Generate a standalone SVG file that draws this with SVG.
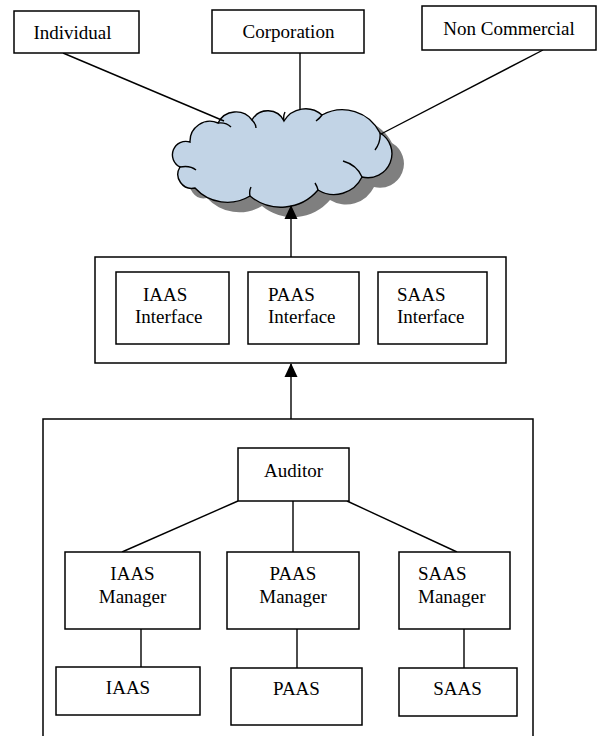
<svg xmlns="http://www.w3.org/2000/svg" width="599" height="736" viewBox="0 0 599 736">
<defs>
<style>
.box{fill:#fff;stroke:#000;stroke-width:1.5}
.ln{fill:none;stroke:#000;stroke-width:1.4}
text{font-family:'Liberation Serif','DejaVu Serif',serif;font-size:19px;fill:#000}
.c{text-anchor:middle}
</style>
<marker id="ah" markerWidth="14" markerHeight="16" refX="13" refY="6.5" orient="auto" markerUnits="userSpaceOnUse" viewBox="0 0 14 13">
<path d="M0,0 L14,6.5 L0,13 Z" fill="#000"/>
</marker>
<path id="cloudShape" d="M195,188 A14,14 0 0 1 180,167 A13.5,13.5 0 0 1 190,142 A20,20 0 0 1 218,123 A20,20 0 0 1 252,120 A18,18 0 0 1 284,121 A25,25 0 0 1 322,115 A42,42 0 0 1 380,133 A24,24 0 0 1 362,177 A31,31 0 0 1 318,190 A48.5,48.5 0 0 1 250,196 A43.7,43.7 0 0 1 195,188 Z"/>
</defs>
<rect width="599" height="736" fill="#fff"/>

<g id="cloud">
<use href="#cloudShape" transform="translate(12,10)" fill="#7f7f7f" stroke="none"/>
<use href="#cloudShape" fill="#c2d4e6" stroke="#000" stroke-width="1.4"/>
<path class="ln" d="M180,167 Q190,165 196,170 M218,123 Q226,122 231,127 M252,120 Q256,124 256,128 M284,121 Q283,116 285,112 M322,115 Q320,118 316,121 M380,133 Q381,142 375,150 M362,177 Q357,165 343,161 M318,190 Q317,186 315,183 M250,196 Q249,191 251,187"/>
</g>

<g id="connectors">
<line class="ln" x1="63" y1="53" x2="224" y2="121"/>
<line class="ln" x1="300" y1="53" x2="300" y2="110"/>
<line class="ln" x1="543" y1="50" x2="381" y2="134"/>
<line class="ln" x1="291" y1="257" x2="291" y2="206" marker-end="url(#ah)"/>
<line class="ln" x1="291" y1="419" x2="291" y2="364" marker-end="url(#ah)"/>
<line class="ln" x1="238" y1="501" x2="122" y2="552"/>
<line class="ln" x1="293" y1="501" x2="293" y2="552"/>
<line class="ln" x1="347" y1="501" x2="457" y2="552"/>
<line class="ln" x1="141" y1="629" x2="141" y2="667"/>
<line class="ln" x1="297" y1="629" x2="297" y2="668"/>
<line class="ln" x1="464" y1="629" x2="464" y2="668"/>
</g>

<g id="individual"><rect class="box" x="14" y="11" width="125" height="42"/><text class="c" x="72.5" y="39">Individual</text></g>
<g id="corporation"><rect class="box" x="212" y="10" width="152" height="43"/><text class="c" x="288.5" y="38">Corporation</text></g>
<g id="noncommercial"><rect class="box" x="422" y="6" width="174" height="44"/><text class="c" x="509" y="35">Non Commercial</text></g>

<g id="interfaces">
<rect class="box" x="95" y="257" width="411" height="106"/>
</g>
<g id="iaas-interface"><rect class="box" x="116" y="272" width="113" height="72"/><text x="143" y="301">IAAS</text><text x="135" y="323">Interface</text></g>
<g id="paas-interface"><rect class="box" x="248" y="272" width="111" height="72"/><text x="268" y="301">PAAS</text><text x="268" y="323">Interface</text></g>
<g id="saas-interface"><rect class="box" x="378" y="272" width="109" height="72"/><text x="397" y="301">SAAS</text><text x="397" y="323">Interface</text></g>

<g id="backend"><path class="box" style="fill:none" d="M43,740 V419 H533 V740"/></g>

<g id="auditor"><rect class="box" x="238" y="448" width="111" height="53"/><text class="c" x="293.5" y="477">Auditor</text></g>
<g id="iaas-manager"><rect class="box" x="65" y="552" width="135" height="77"/><text class="c" x="132.5" y="580">IAAS</text><text class="c" x="132.5" y="603">Manager</text></g>
<g id="paas-manager"><rect class="box" x="227" y="552" width="132" height="77"/><text class="c" x="293" y="580">PAAS</text><text class="c" x="293" y="603">Manager</text></g>
<g id="saas-manager"><rect class="box" x="399" y="552" width="111" height="77"/><text x="418" y="580">SAAS</text><text x="418" y="603">Manager</text></g>

<g id="iaas"><rect class="box" x="56" y="667" width="144" height="48"/><text class="c" x="128" y="694">IAAS</text></g>
<g id="paas"><rect class="box" x="231" y="668" width="131" height="57"/><text class="c" x="296.5" y="695">PAAS</text></g>
<g id="saas"><rect class="box" x="399" y="668" width="118" height="48"/><text class="c" x="457.5" y="695">SAAS</text></g>
</svg>
